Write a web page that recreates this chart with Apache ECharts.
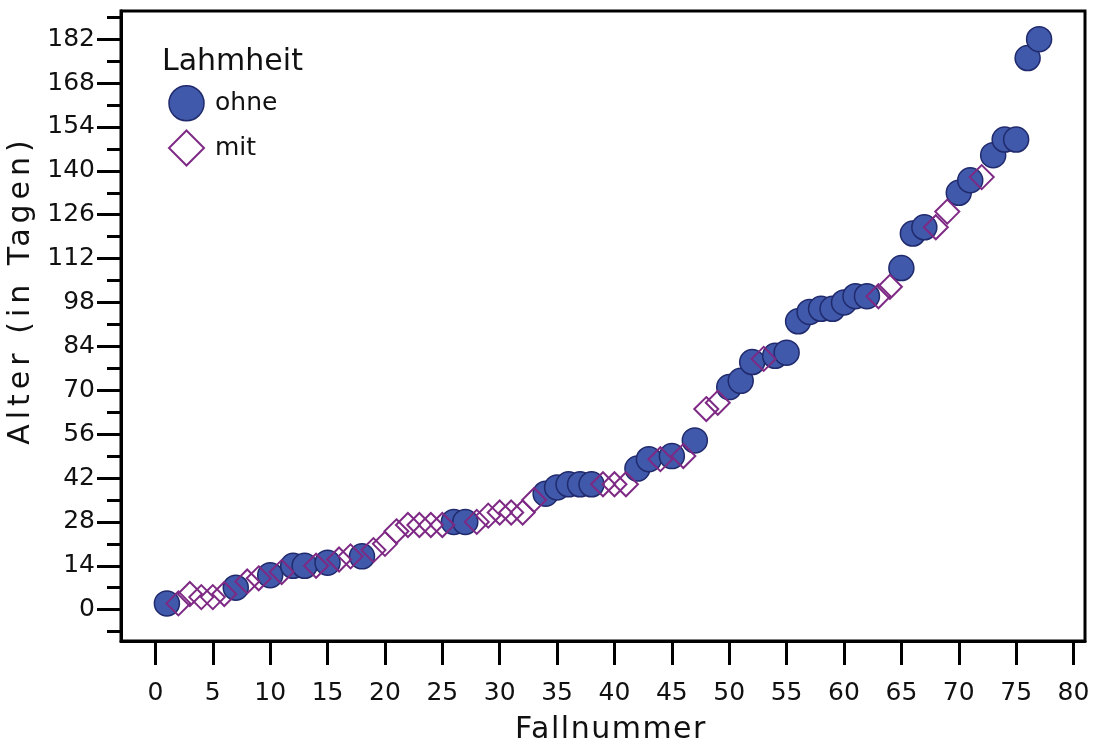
<!DOCTYPE html>
<html>
<head>
<meta charset="utf-8">
<script src="https://cdn.jsdelivr.net/npm/echarts@6/dist/echarts.min.js"></script>
<style>
html,body{margin:0;padding:0;background:#fff;}
#chart{width:1094px;height:747px;}
</style>
</head>
<body>
<div id="chart"></div>
<script>
// Data: case number (Fallnummer) and age in days (Alter), split by lameness group
const ohneCases = [1,7,10,12,13,15,18,26,27,34,35,36,37,38,42,43,45,47,50,51,52,54,55,56,57,58,59,60,61,62,65,66,67,70,71,73,74,75,76,77];
const ohneAges  = [2,7,11,14,14,15,17,28,28,37,39,40,40,40,45,48,49,54,71,73,79,81,82,92,95,96,96,98,100,100,109,120,122,133,137,145,150,150,176,182];
const mitCases  = [2,3,4,5,6,8,9,11,14,16,17,19,20,21,22,23,24,25,28,29,30,31,32,33,39,40,41,44,46,48,49,53,63,64,68,69,72];
const mitAges   = [2,5,4,4,5,9,10,12,14,16,17,19,21,25,27,27,27,27,28,30,31,31,31,35,40,40,40,48,49,64,66,80,100,103,122,127,138];

const xTicks = [0,5,10,15,20,25,30,35,40,45,50,55,60,65,70,75,80];
const yMajorTicks = [0,14,28,42,56,70,84,98,112,126,140,154,168,182];
const yMinorTicks = [-7,7,21,35,49,63,77,91,105,119,133,147,161,175,189];

const legendTitle = 'Lahmheit';
const groupNames = ['ohne','mit'];
const xName = 'Fallnummer';
const yName = 'Alter (in Tagen)';

const FONT = 'DejaVu Sans';
const circleFill = '#4059ab';
const circleBorder = '#202a6c';
const diamondColor = '#7e2a85';

// wider tracking for the two axis titles only (the reference letters them widely)
(function(){
  const proto = CanvasRenderingContext2D.prototype;
  const orig = proto.fillText;
  const spacing = {};
  spacing[yName] = '5px';
  spacing[xName] = '1.5px';
  proto.fillText = function(txt, x, y, w){
    if (!('letterSpacing' in this)) {
      return (w === undefined) ? orig.call(this, txt, x, y) : orig.call(this, txt, x, y, w);
    }
    const f = this.font;
    this.letterSpacing = spacing[txt] || '0px';
    this.font = f;
    const r = (w === undefined) ? orig.call(this, txt, x, y) : orig.call(this, txt, x, y, w);
    this.letterSpacing = '0px';
    this.font = f;
    return r;
  };
})();

const chart = echarts.init(document.getElementById('chart'), null, {renderer:'canvas'});

const ohneData = ohneCases.map((c,i)=>[c, ohneAges[i]]);
const mitData = mitCases.map((c,i)=>[c, mitAges[i]]);

chart.setOption({
  backgroundColor:'#fff',
  animation:false,
  title:{
    text: legendTitle,
    left:157, top:42,
    textStyle:{fontFamily:FONT, fontSize:30, fontWeight:'normal', color:'#111'}
  },
  legend:{
    orient:'vertical',
    left:163, top:80,
    itemWidth:35, itemHeight:35, itemGap:8,
    textStyle:{fontFamily:FONT, fontSize:25, color:'#111', padding:[0,0,0,6]},
    data:[
      {name:groupNames[0], icon:'circle', itemStyle:{color:circleFill, borderColor:circleBorder, borderWidth:1.5}},
      {name:groupNames[1], icon:'diamond', itemStyle:{color:'#fff', borderColor:diamondColor, borderWidth:2}}
    ]
  },
  grid:{
    left:121, right:9, top:11, bottom:106,
    outerBoundsMode:'none', containLabel:false,
    show:true, borderColor:'#000', borderWidth:3, backgroundColor:'transparent'
  },
  xAxis:{
    type:'value', min:-3, max:81,
    name:xName, nameLocation:'middle', nameGap:74,
    nameTextStyle:{fontFamily:FONT, fontSize:30, color:'#111', padding:[0,0,0,16]},
    axisLine:{show:true, onZero:false, lineStyle:{color:'#000', width:3}},
    axisTick:{show:true, length:24, lineStyle:{color:'#000', width:3}, customValues:xTicks},
    axisLabel:{fontFamily:FONT, fontSize:25, color:'#111', margin:40, customValues:xTicks},
    splitLine:{show:false}
  },
  yAxis:[
    {
      type:'value', min:-10, max:191, position:'left',
      name:yName, nameLocation:'middle', nameGap:76,
      nameTextStyle:{fontFamily:FONT, fontSize:30, color:'#111', padding:[0,0,0,72]},
      axisLine:{show:true, onZero:false, lineStyle:{color:'#000', width:3}},
      axisTick:{show:true, length:24, lineStyle:{color:'#000', width:3}, customValues:yMajorTicks},
      axisLabel:{fontFamily:FONT, fontSize:25, color:'#111', margin:26, customValues:yMajorTicks},
      splitLine:{show:false}
    },
    {
      type:'value', min:-10, max:191, position:'left',
      axisLine:{show:true, onZero:false, lineStyle:{color:'#000', width:3}},
      axisTick:{show:true, length:14, lineStyle:{color:'#000', width:3}, customValues:yMinorTicks},
      axisLabel:{show:false},
      splitLine:{show:false}
    }
  ],
  series:[
    {
      name:groupNames[0], type:'scatter', yAxisIndex:0,
      symbol:'circle', symbolSize:25,
      itemStyle:{color:circleFill, borderColor:circleBorder, borderWidth:1.5, opacity:1},
      data:ohneData, z:2
    },
    {
      name:groupNames[1], type:'scatter', yAxisIndex:0,
      symbol:'diamond', symbolSize:24,
      itemStyle:{color:'rgba(255,255,255,0)', borderColor:diamondColor, borderWidth:2, opacity:1},
      data:mitData, z:3
    }
  ]
});
</script>
</body>
</html>
